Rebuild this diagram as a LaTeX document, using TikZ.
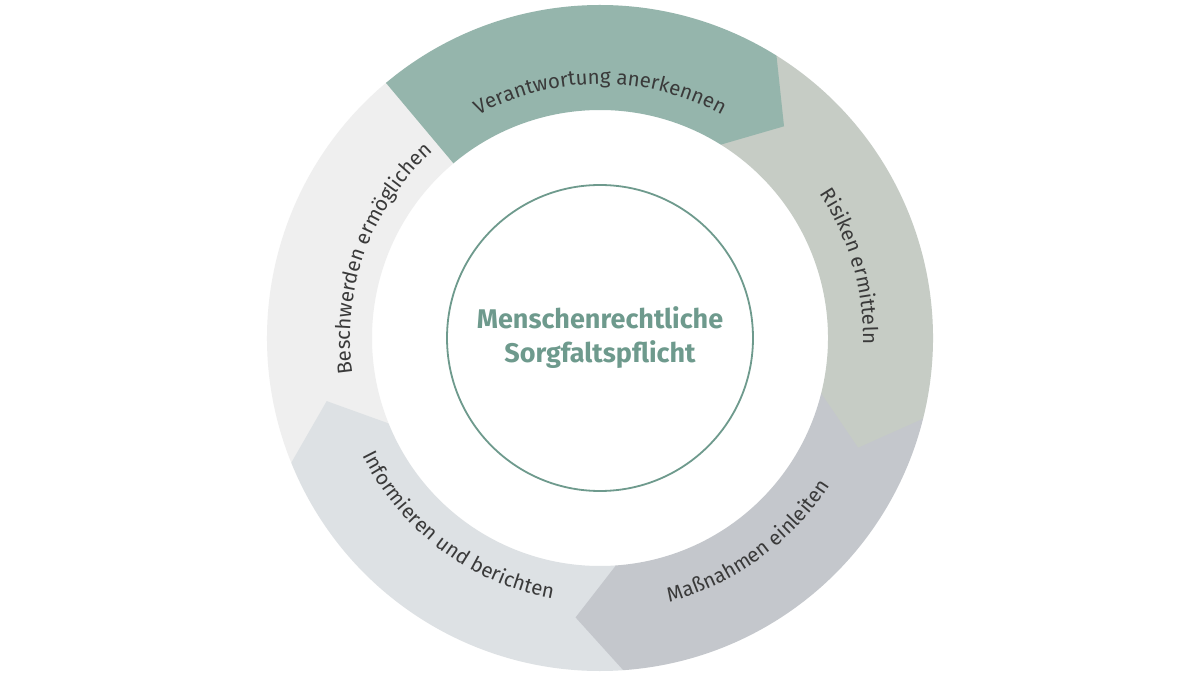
\documentclass[tikz,border=0pt]{standalone}
\usepackage{fontspec}
\setmainfont{Fira Sans}
\usetikzlibrary{decorations.text}
\definecolor{segA}{HTML}{95B5AC}
\definecolor{segB}{HTML}{C6CCC5}
\definecolor{segC}{HTML}{C4C7CC}
\definecolor{segD}{HTML}{DDE1E4}
\definecolor{segE}{HTML}{EFEFEF}
\definecolor{teal}{HTML}{6E9A8D}
\definecolor{labelgray}{HTML}{3A3A3A}
\tikzset{
  ringlabel/.style={decorate, decoration={text along path, text align=center,
    text color=labelgray, text={|\fontsize{20.5}{24}\selectfont|#1}}}
}
\begin{document}
\begin{tikzpicture}[x=1pt,y=1pt]
	\useasboundingbox (0,0) rectangle (1200,675);
	\fill[white] (0,0) rectangle (1200,675);
	\begin{scope}[shift={(600,337)}]
		{
			\def\ro{333pt}
			\def\ri{228pt}
			\def\rm{280.5pt}
			% segments, drawn so that each head lies over the next tail
			\foreach \c/\t in {segE/202,segD/274,segC/346,segB/58,segA/130}
			{
				\pgfmathsetmacro{\e}{\t-72}
				\pgfmathsetmacro{\p}{\t-81}
				\fill[\c] (\t:\ri) -- (\t:\ro) arc[start angle=\t, end angle=\e, radius=\ro]
					-- (\p:\rm) -- (\e:\ri) arc[start angle=\e, end angle=\t, radius=\ri] -- cycle;
			}
			% labels, clockwise (tops outward) and counterclockwise (tops inward)
			\path[ringlabel={Verantwortung anerkennen}] (140:254pt) arc[start angle=140, end angle=40, radius=254pt];
			\path[ringlabel={Risiken ermitteln}] (66:263pt) arc[start angle=66, end angle=-34, radius=263pt];
			\path[ringlabel={Beschwerden ermöglichen}] (210:250pt) arc[start angle=210, end angle=110, radius=250pt];
			\path[ringlabel={Maßnahmen einleiten}] (-104:273pt) arc[start angle=-104, end angle=-4, radius=273pt];
			\path[ringlabel={Informieren und berichten}] (-182:265pt) arc[start angle=-182, end angle=-72, radius=265pt];
			% centre
			\node[circle, draw=teal, line width=1.8pt, minimum size=306pt] (core) at (0,0) {};
			\node[font=\bfseries\fontsize{27}{34}\selectfont, text=teal, align=center] (title) at (core.center)
				{Menschenrechtliche\\Sorgfaltspflicht};
		}
	\end{scope}
\end{tikzpicture}
\end{document}
